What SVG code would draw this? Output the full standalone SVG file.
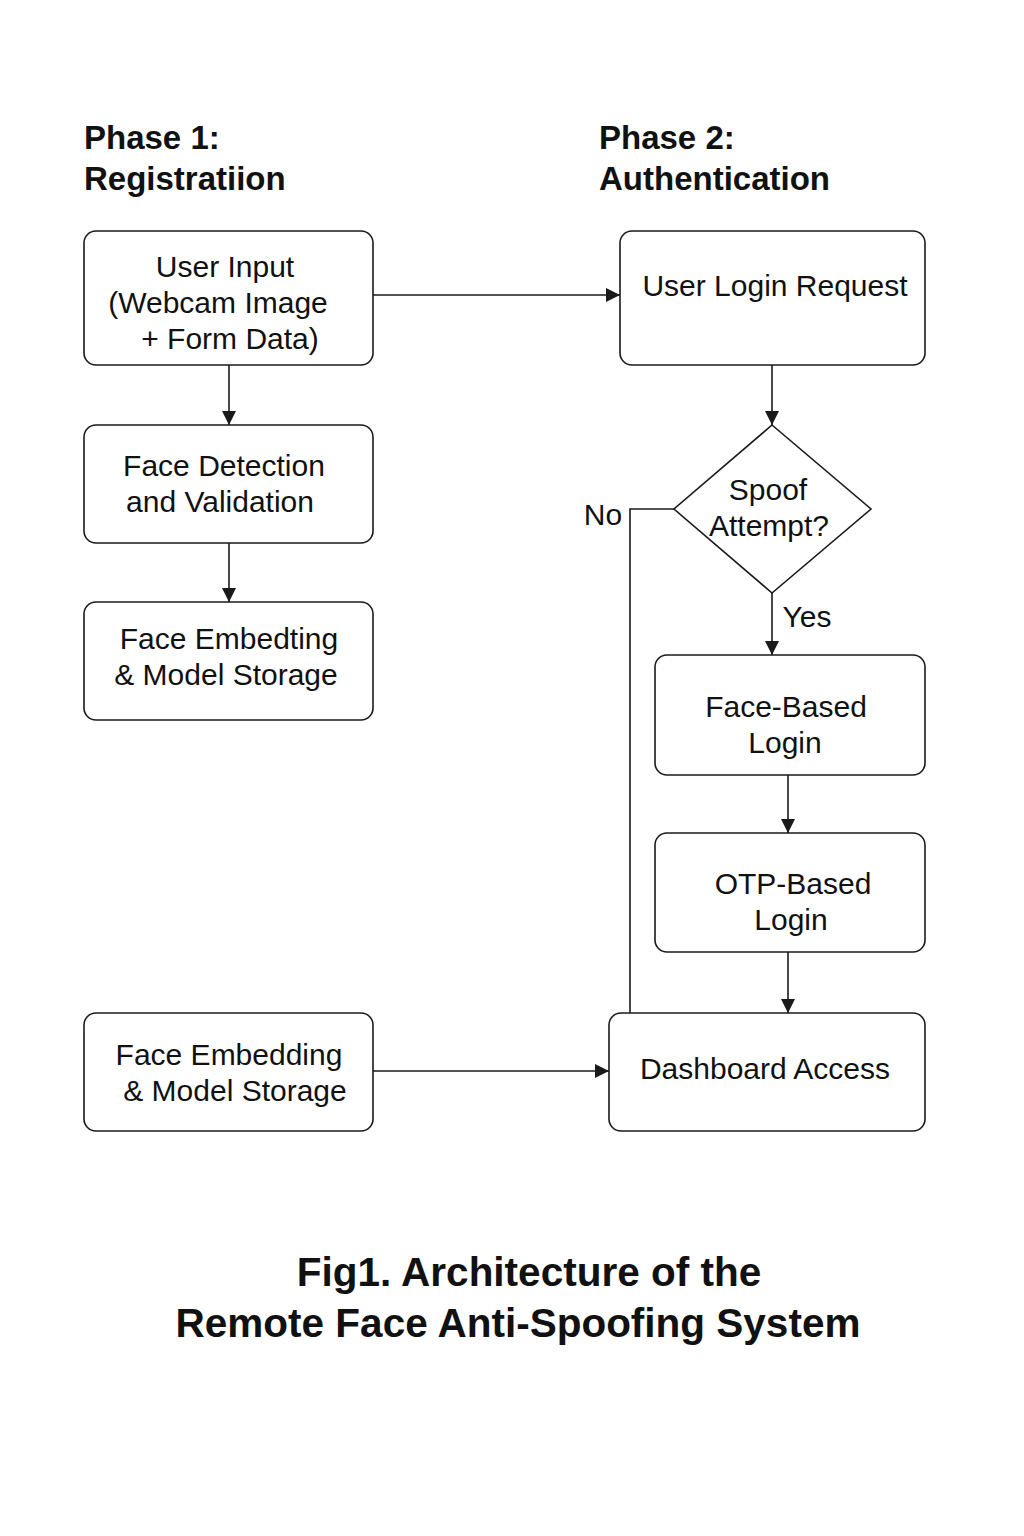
<svg xmlns="http://www.w3.org/2000/svg" width="1024" height="1536" viewBox="0 0 1024 1536">
<style>
.box{fill:#fff;stroke:#1a1a1a;stroke-width:1.6}
.t{font-family:"Liberation Sans",Arial,sans-serif;font-size:30px;fill:#111;text-anchor:middle}
.h{font-family:"Liberation Sans",Arial,sans-serif;font-size:33px;font-weight:bold;fill:#111}
.ttl{font-family:"Liberation Sans",Arial,sans-serif;font-size:40.5px;font-weight:bold;fill:#111;text-anchor:middle}
.c{fill:none;stroke:#1a1a1a;stroke-width:1.6}
</style>
<defs>
<marker id="arr" viewBox="0 0 14 14" refX="14" refY="7" markerWidth="14" markerHeight="14" markerUnits="userSpaceOnUse" orient="auto">
<path d="M0,0 L14,7 L0,14 z" fill="#1a1a1a"/>
</marker>
</defs>
<rect width="1024" height="1536" fill="#fff"/>
<text class="h" x="84" y="149">Phase 1:</text>
<text class="h" x="84" y="190">Registratiion</text>
<text class="h" x="599" y="149">Phase 2:</text>
<text class="h" x="599" y="190">Authentication</text>

<g id="connectors">
<line class="c" x1="373" y1="295" x2="620" y2="295" marker-end="url(#arr)"/>
<line class="c" x1="229" y1="365" x2="229" y2="425" marker-end="url(#arr)"/>
<line class="c" x1="229" y1="543" x2="229" y2="602" marker-end="url(#arr)"/>
<line class="c" x1="772" y1="365" x2="772" y2="425" marker-end="url(#arr)"/>
<line class="c" x1="772" y1="593" x2="772" y2="655" marker-end="url(#arr)"/>
<line class="c" x1="788" y1="775" x2="788" y2="833" marker-end="url(#arr)"/>
<line class="c" x1="788" y1="952" x2="788" y2="1013" marker-end="url(#arr)"/>
<polyline class="c" points="674,509 630,509 630,1013"/>
<line class="c" x1="373" y1="1071" x2="609" y2="1071" marker-end="url(#arr)"/>
<text class="t" x="603" y="525">No</text>
<text class="t" x="807" y="627">Yes</text>
</g>

<g id="user-input">
<rect class="box" x="84" y="231" width="289" height="134" rx="12"/>
<text class="t" x="225" y="277">User Input</text>
<text class="t" x="218" y="313">(Webcam Image</text>
<text class="t" x="230" y="349">+ Form Data)</text>
</g>
<g id="face-detection">
<rect class="box" x="84" y="425" width="289" height="118" rx="12"/>
<text class="t" x="224" y="476">Face Detection</text>
<text class="t" x="220" y="512">and Validation</text>
</g>
<g id="face-embedting">
<rect class="box" x="84" y="602" width="289" height="118" rx="12"/>
<text class="t" x="229" y="649">Face Embedting</text>
<text class="t" x="226" y="685">&amp; Model Storage</text>
</g>
<g id="face-embedding">
<rect class="box" x="84" y="1013" width="289" height="118" rx="12"/>
<text class="t" x="229" y="1065">Face Embedding</text>
<text class="t" x="235" y="1101">&amp; Model Storage</text>
</g>
<g id="login-request">
<rect class="box" x="620" y="231" width="305" height="134" rx="12"/>
<text class="t" x="775" y="296">User Login Request</text>
</g>
<g id="spoof-decision">
<polygon class="box" points="772,425 871,509 772,593 674,509"/>
<text class="t" x="768" y="500">Spoof</text>
<text class="t" x="769" y="536">Attempt?</text>
</g>
<g id="face-login">
<rect class="box" x="655" y="655" width="270" height="120" rx="12"/>
<text class="t" x="786" y="717">Face-Based</text>
<text class="t" x="785" y="753">Login</text>
</g>
<g id="otp-login">
<rect class="box" x="655" y="833" width="270" height="119" rx="12"/>
<text class="t" x="793" y="894">OTP-Based</text>
<text class="t" x="791" y="930">Login</text>
</g>
<g id="dashboard">
<rect class="box" x="609" y="1013" width="316" height="118" rx="12"/>
<text class="t" x="765" y="1079">Dashboard Access</text>
</g>

<text class="ttl" x="529" y="1286">Fig1. Architecture of the</text>
<text class="ttl" x="518" y="1337">Remote Face Anti-Spoofing System</text>
</svg>
